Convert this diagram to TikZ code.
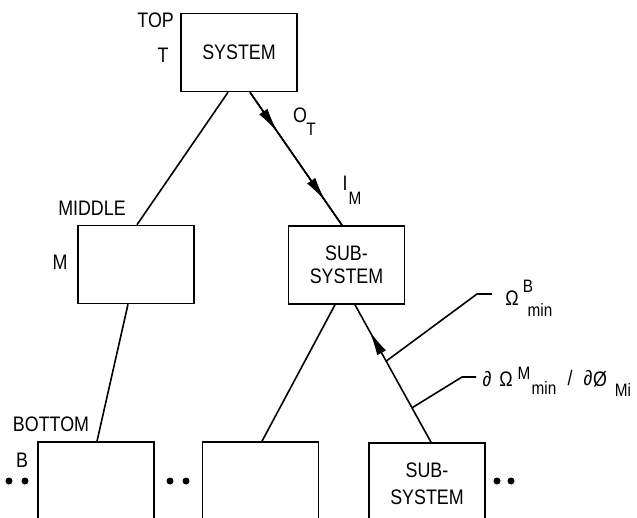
\documentclass[tikz,border=0pt]{standalone}
\usepackage{fontspec}
\setmainfont{Liberation Sans}[FakeStretch=0.85]
\usetikzlibrary{arrows.meta,calc,decorations.markings}
\begin{document}
\begin{tikzpicture}[x=1pt,y=-1pt,
  lw/.style={line width=1.6pt},
  blk/.style={draw,lw,rectangle,minimum width=116pt,minimum height=78pt,inner sep=0pt,align=center,font=\fontsize{21}{25}\selectfont},
  bot/.style={draw,lw,rectangle,minimum width=116pt,minimum height=120pt,inner sep=0pt},
  lab/.style={inner sep=0pt,font=\fontsize{21}{25}\selectfont},
  sml/.style={inner sep=0pt,font=\fontsize{18}{21}\selectfont},
  arr/.style={lw,postaction={decorate},decoration={markings,mark=at position #1 with {\arrow{Latex[length=25pt,width=10pt]}}}},
  dot/.style={circle,fill,inner sep=0pt,minimum size=7pt}]
\useasboundingbox (0,0) rectangle (637,518);
\clip (0,0) rectangle (637,518);
% boxes
\node[blk] (top) at (239,52.5) {SYSTEM};
\node[blk] (mid) at (136,264.5) {};
\node[blk] (sub) at (346.5,265) {};
\node[lab] (subt1) at (346.5,253) {SUB-};
\node[lab] (subt2) at (346.5,276) {SYSTEM};
\node[bot] (b1) at (96,502) {};
\node[bot] (b2) at (260.5,502) {};
\node[bot] (b3) at (427,503) {};
\node[lab] (b3t1) at (427,470) {SUB-};
\node[lab] (b3t2) at (427,497) {SYSTEM};
% level labels
\node[lab,anchor=east] (ltop) at (174,20) {TOP};
\node[lab] (lT) at (163,55) {T};
\node[lab] (lmid) at (92,208) {MIDDLE};
\node[lab] (lM) at (60,262) {M};
\node[lab] (lbot) at (51,424) {BOTTOM};
\node[lab] (lB) at (22,460) {B};
% connectors
\draw[lw] ([xshift=-11pt]top.south) -- ([xshift=1pt]mid.north);
\draw[arr=0.3] ([xshift=11pt]top.south) -- ([xshift=-4.5pt]sub.north);
\draw[arr=0.82] ([xshift=11pt]top.south) -- ([xshift=-4.5pt]sub.north);
\draw[lw] ([xshift=-8pt]mid.south) -- ([xshift=1pt]b1.north);
\draw[lw] ([xshift=-11.5pt]sub.south) -- ([xshift=1.5pt]b2.north);
\coordinate (ua) at ([xshift=4pt]b3.north);
\coordinate (ub) at ([xshift=8.5pt]sub.south);
\draw[arr=0.81] (ua) -- (ub);
% leaders
\coordinate (l1) at ($(ua)!0.59!(ub)$);
\coordinate (l1a) at (477,294);
\coordinate (l1b) at (492,294);
\draw[lw] (l1) -- (l1a) -- (l1b);
\coordinate (l2) at ($(ua)!0.25!(ub)$);
\coordinate (l2a) at (462,377);
\coordinate (l2b) at (476,377);
\draw[lw] (l2) -- (l2a) -- (l2b);
% signal labels
\node[lab] (oO) at (300,115) {O};
\node[sml] (oT) at (311,129) {T};
\node[lab] (iI) at (345,183) {I};
\node[sml] (iM) at (355,198) {M};
\node[lab] (om1) at (512,298) {Ω};
\node[sml] (om1b) at (528,286) {B};
\node[sml] (om1m) at (540,310) {min};
\node[lab] (d1) at (487,379) {∂};
\node[lab] (om2) at (506,379) {Ω};
\node[sml] (om2M) at (524,373) {M};
\node[sml] (om2m) at (544,388) {min};
\node[lab] (sl) at (570,378) {/};
\node[lab] (d2) at (588,378) {∂};
\node[lab] (z) at (600,379) {Ø};
\node[sml] (zMi) at (623,390) {Mi};
% dots
\node[dot] (p1) at (9,481) {};
\node[dot] (p2) at (25,481) {};
\node[dot] (p3) at (170,481) {};
\node[dot] (p4) at (186,481) {};
\node[dot] (p5) at (497,481) {};
\node[dot] (p6) at (511,481) {};
\end{tikzpicture}
\end{document}
